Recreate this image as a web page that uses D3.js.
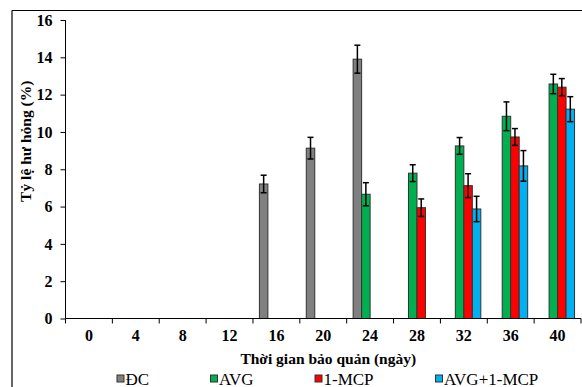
<!DOCTYPE html>
<html><head><meta charset="utf-8">
<script src="https://cdn.jsdelivr.net/npm/d3@7"></script>
<style>body{margin:0;background:#fff}svg{display:block}</style>
</head><body>
<svg id="c" width="582" height="387"></svg>
<script>
const categories = ["0","4","8","12","16","20","24","28","32","36","40"];
const seriesNames = ["ĐC","AVG","1-MCP","AVG+1-MCP"];
const seriesColors = ["#808080","#00B050","#FF0000","#00B0F0"];
const valDC     = [null,null,null,null,7.21,9.13,13.9,null,null,null,null];
const errDC     = [null,null,null,null,0.47,0.58,0.75,null,null,null,null];
const valAVG    = [null,null,null,null,null,null,6.66,7.79,9.25,10.84,12.57];
const errAVG    = [null,null,null,null,null,null,0.62,0.45,0.45,0.77,0.52];
const valMCP    = [null,null,null,null,null,null,null,5.94,7.12,9.73,12.4];
const errMCP    = [null,null,null,null,null,null,null,0.47,0.64,0.45,0.46];
const valBoth   = [null,null,null,null,null,null,null,null,5.87,8.18,11.22];
const errBoth   = [null,null,null,null,null,null,null,null,0.68,0.82,0.67];
const yTicks = [0,2,4,6,8,10,12,14,16];

const vals = [valDC,valAVG,valMCP,valBoth];
const errs = [errDC,errAVG,errMCP,errBoth];

const svg = d3.select("#c");
const L = 65.5, R = 581, T = 20, B = 318.5;
const font = "'Liberation Serif','Times New Roman',serif";

// frame
svg.append("line").attr("x1",12).attr("x2",582).attr("y1",10.5).attr("y2",10.5).attr("stroke","#000").attr("stroke-width",1.2);
svg.append("line").attr("x1",12).attr("x2",12).attr("y1",10.5).attr("y2",387).attr("stroke","#000").attr("stroke-width",1.2);

const x0 = d3.scaleBand().domain(categories).range([L,R]).padding(0);
const x1 = d3.scaleBand().domain(seriesNames).range([0,x0.bandwidth()]).paddingInner(0).paddingOuter(0.76);
const y = d3.scaleLinear().domain([0,16]).range([B,T]);

// bars
const data = [];
categories.forEach((c,i)=>{
  seriesNames.forEach((s,j)=>{
    if (vals[j][i]!=null) data.push({c, s, j, v: vals[j][i], e: errs[j][i]});
  });
});
const g = svg.append("g");
g.selectAll("rect").data(data).join("rect")
  .attr("x", d=>x0(d.c)+x1(d.s))
  .attr("y", d=>y(d.v))
  .attr("width", x1.bandwidth())
  .attr("height", d=>y(0)-y(d.v))
  .attr("fill", d=>seriesColors[d.j])
  .attr("stroke","#333").attr("stroke-width",1);

// error bars
const eg = svg.append("g").attr("stroke","#000").attr("stroke-width",1.5);
data.forEach(d=>{
  const cx = x0(d.c)+x1(d.s)+x1.bandwidth()/2;
  eg.append("line").attr("x1",cx).attr("x2",cx).attr("y1",y(d.v+d.e)).attr("y2",y(d.v-d.e));
  eg.append("line").attr("x1",cx-3).attr("x2",cx+3).attr("y1",y(d.v+d.e)).attr("y2",y(d.v+d.e));
  eg.append("line").attr("x1",cx-3).attr("x2",cx+3).attr("y1",y(d.v-d.e)).attr("y2",y(d.v-d.e));
});

// y axis
const ya = svg.append("g").attr("transform",`translate(${L},0)`)
  .call(d3.axisLeft(y).tickValues(yTicks).tickSize(5).tickPadding(8).tickFormat(d3.format("d")));
ya.select(".domain").attr("d",`M-0,${T}V${B}`).attr("stroke","#000");
ya.selectAll("text").attr("font-family",font).attr("font-weight","bold").attr("font-size",16).attr("fill","#000");

// x axis
const xa = svg.append("g").attr("transform",`translate(0,${B})`)
  .call(d3.axisBottom(x0).tickSize(0).tickPadding(11));
xa.select(".domain").attr("d",`M${L},0H${R}`).attr("stroke","#000");
xa.selectAll("text").attr("font-family",font).attr("font-weight","bold").attr("font-size",16).attr("fill","#000");
// boundary ticks
categories.forEach((c,i)=>{
  xa.append("line").attr("x1",x0(c)).attr("x2",x0(c)).attr("y1",0).attr("y2",5).attr("stroke","#000");
});
xa.append("line").attr("x1",R).attr("x2",R).attr("y1",0).attr("y2",5).attr("stroke","#000");

// axis titles
svg.append("text").attr("x",(L+R)/2 + 5).attr("y",364).attr("text-anchor","middle")
  .attr("font-family",font).attr("font-weight","bold").attr("font-size",15.5).text("Thời gian bảo quản (ngày)");
svg.append("text").attr("transform",`translate(31,${(T+B)/2 - 28}) rotate(-90)`).attr("text-anchor","middle")
  .attr("font-family",font).attr("font-weight","bold").attr("font-size",15.5).text("Tỷ lệ hư hỏng (%)");

// legend
const legX = [117, 210.5, 315, 435.5];
const lg = svg.append("g");
seriesNames.forEach((s,j)=>{
  lg.append("rect").attr("x",legX[j]).attr("y",375).attr("width",7).attr("height",7)
    .attr("fill",seriesColors[j]).attr("stroke","#333").attr("stroke-width",1);
  lg.append("text").attr("x",legX[j]+8.5).attr("y",384.5).attr("font-family",font).attr("font-size",17).text(s);
});
</script>
</body></html>
